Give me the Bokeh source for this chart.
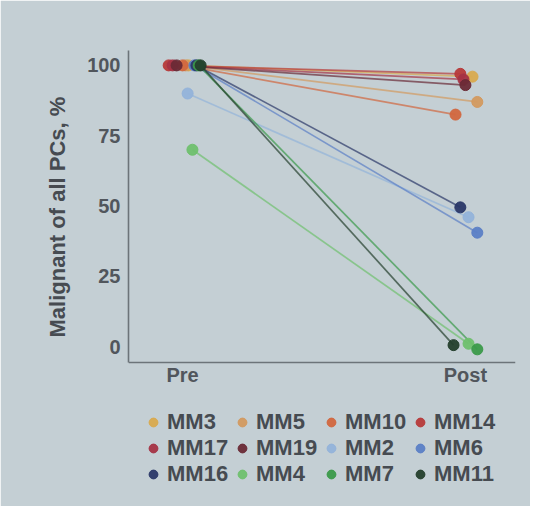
from bokeh.plotting import figure
from bokeh.models import Legend, LegendItem, Range1d, FixedTicker, Title
from bokeh.embed import file_html
from bokeh.resources import INLINE

# ---- data ----
samples = ["MM3", "MM5", "MM10", "MM14", "MM17", "MM19",
           "MM2", "MM6", "MM16", "MM4", "MM7", "MM11"]
colors = ["#d9aa4e", "#d39a60", "#d2673f", "#b73a3a", "#a53345", "#6a2a36",
          "#93b3da", "#5b7fc6", "#2b3868", "#6fc06e", "#3b9a4a", "#243f2c"]
pre_values = [100, 100, 100, 100, 100, 100, 90, 100, 100, 70, 100, 100]
post_values = [96, 87, 82.5, 97, 95, 93, 46, 40.5, 49.5, 1, -1, 0.5]
# small horizontal jitter (in category units) as seen in the picture
pre_jitter = [0.021, 0.011, 0.0, -0.049, -0.035, -0.021, 0.018, 0.042, 0.049, 0.035, 0.057, 0.064]
post_jitter = [0.025, 0.042, -0.035, -0.018, -0.007, 0.0, 0.011, 0.042, -0.018, 0.011, 0.042, -0.042]
x_labels = {0: "Pre", 1: "Post"}
y_ticks = [0, 25, 50, 75, 100]
y_title = "Malignant of all PCs, %"

BG = "#c4cfd4"
TXT = "#464b51"
FONT = "Liberation Sans"

Y_LO, Y_HI = -5.7, 105.3

p = figure(width=530, height=506, output_backend="svg", toolbar_location=None,
           x_range=Range1d(-0.191, 1.177), y_range=Range1d(-56.9, Y_HI),
           min_border_left=128, min_border_right=15, min_border_top=50,
           min_border_bottom=0)
p.background_fill_color = BG
p.border_fill_color = BG
p.outline_line_color = BG
p.outline_line_width = 2
p.grid.visible = False

items = []
for i, name in enumerate(samples):
    xs = [0 + pre_jitter[i], 1 + post_jitter[i]]
    ys = [pre_values[i], post_values[i]]
    p.line(xs, ys, line_color=colors[i], line_width=1.7, line_alpha=0.7)
for i, name in enumerate(samples):
    xs = [0 + pre_jitter[i], 1 + post_jitter[i]]
    ys = [pre_values[i], post_values[i]]
    r = p.scatter(xs, ys, size=11, fill_color=colors[i], line_color=colors[i],
                  fill_alpha=0.95)
    items.append(LegendItem(label=name, renderers=[r]))

# axes
for ax in (p.xaxis[0], p.yaxis[0]):
    ax.axis_line_color = "#6c7479"
    ax.axis_line_width = 1.6
    ax.major_tick_line_color = None
    ax.minor_tick_line_color = None
    ax.major_label_text_font = FONT
    ax.major_label_text_font_style = "bold"
    ax.major_label_text_color = "#51565c"
    ax.major_label_text_font_size = "20px"

p.xaxis.ticker = FixedTicker(ticks=list(x_labels.keys()))
p.xaxis.major_label_overrides = x_labels
p.xaxis.major_label_standoff = -5
p.xaxis.fixed_location = Y_LO
p.yaxis.ticker = FixedTicker(ticks=y_ticks)
p.yaxis.bounds = (Y_LO, Y_HI)
p.yaxis.major_label_standoff = 2

p.add_layout(Title(text=y_title, align="left", offset=169, standoff=30,
                   text_font=FONT, text_font_style="bold", text_font_size="22px",
                   text_color=TXT), "left")

legend = Legend(items=items, location=(14, 19), orientation="horizontal", ncols=4,
                glyph_width=22, glyph_height=22, label_standoff=3, label_width=64,
                label_height=22, spacing=0, padding=0, margin=0,
                border_line_color=None, background_fill_alpha=0,
                label_text_font=FONT, label_text_font_style="bold",
                label_text_font_size="22px", label_text_color=TXT)
p.add_layout(legend, "center")

open("out.html", "w").write(file_html(p, INLINE))
